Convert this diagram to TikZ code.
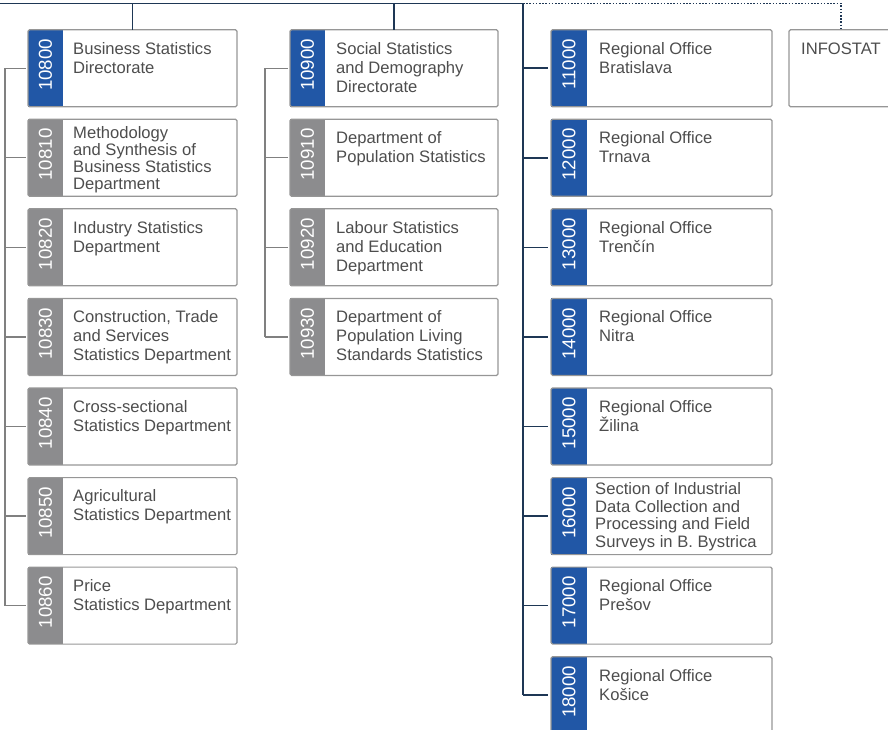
\documentclass[tikz,border=0pt]{standalone}
\usepackage{fontspec}
\setmainfont{Liberation Sans}
\definecolor{navyline}{RGB}{30,55,85}
\definecolor{stripblue}{RGB}{33,87,166}
\definecolor{stripgray}{RGB}{140,140,142}
\definecolor{boxborder}{RGB}{150,150,150}
\definecolor{connector}{RGB}{128,128,128}
\definecolor{labeltext}{RGB}{77,77,77}
\tikzset{
  ubox/.style={draw=boxborder, line width=1.2pt, rounded corners=1.5pt, inner sep=0pt, outer sep=0pt, minimum height=77pt},
  numtext/.style={rotate=90, inner sep=0pt, text=white, font=\fontsize{18.7}{18.7}\selectfont},
  utext/.style={inner sep=0pt, anchor=north west, align=left, text=labeltext, font=\fontsize{16.6}{19}\selectfont},
  tightA/.style={yshift=5.1pt, font=\fontsize{16.6}{17}\selectfont},
  tightB/.style={yshift=7.5pt, font=\fontsize{16.6}{17.7}\selectfont},
  navy/.style={draw=navyline, line width=1.5pt},
  navydots/.style={draw=navyline, line width=1.3pt, dash pattern=on 1.6pt off 1.6pt},
  grayconn/.style={draw=connector, line width=1.3pt},
}
% #1 name, #2 x0, #3 top, #4 width, #5 strip width, #6 strip colour, #7 number, #8 text x, #9 text options
\newcommand\orgunit[9]{%
  \fill[#6] (#2,#3) rectangle ++(#5,77);
  \node[ubox, minimum width=#4pt, anchor=north west] (#1) at (#2,#3) {};
  \node[numtext, anchor=east] (#1n) at (#2+#5/2,#3+9) {#7};
  \node[utext, #9] (#1t) at (#8,#3+12.1)
}
\begin{document}
\begin{tikzpicture}[x=1pt,y=-1pt]
\useasboundingbox (0,0) rectangle (888,730);
% column 1
\orgunit{b10800}{28}{29.7}{209}{35}{stripblue}{10800}{73}{}{Business Statistics\\Directorate};
\orgunit{b10810}{28}{119.3}{209}{35}{stripgray}{10810}{73}{tightA}{Methodology\\and Synthesis of\\Business Statistics\\Department};
\orgunit{b10820}{28}{208.8}{209}{35}{stripgray}{10820}{73}{}{Industry Statistics\\Department};
\orgunit{b10830}{28}{298.4}{209}{35}{stripgray}{10830}{73}{}{Construction, Trade\\and Services\\Statistics Department};
\orgunit{b10840}{28}{388.0}{209}{35}{stripgray}{10840}{73}{}{Cross-sectional\\Statistics Department};
\orgunit{b10850}{28}{477.6}{209}{35}{stripgray}{10850}{73}{}{Agricultural\\Statistics Department};
\orgunit{b10860}{28}{567.1}{209}{35}{stripgray}{10860}{73}{}{Price\\Statistics Department};
% column 2
\orgunit{b10900}{290}{29.7}{208}{35}{stripblue}{10900}{336}{}{Social Statistics\\and Demography\\Directorate};
\orgunit{b10910}{290}{119.3}{208}{35}{stripgray}{10910}{336}{}{Department of\\Population Statistics};
\orgunit{b10920}{290}{208.8}{208}{35}{stripgray}{10920}{336}{}{Labour Statistics\\and Education\\Department};
\orgunit{b10930}{290}{298.4}{208}{35}{stripgray}{10930}{336}{}{Department of\\Population Living\\Standards Statistics};
% column 3
\orgunit{b11000}{551}{29.7}{221}{36}{stripblue}{11000}{599}{}{Regional Office\\Bratislava};
\orgunit{b12000}{551}{119.3}{221}{36}{stripblue}{12000}{599}{}{Regional Office\\Trnava};
\orgunit{b13000}{551}{208.8}{221}{36}{stripblue}{13000}{599}{}{Regional Office\\Trenčín};
\orgunit{b14000}{551}{298.4}{221}{36}{stripblue}{14000}{599}{}{Regional Office\\Nitra};
\orgunit{b15000}{551}{388.0}{221}{36}{stripblue}{15000}{599}{}{Regional Office\\Žilina};
\orgunit{b16000}{551}{477.6}{221}{36}{stripblue}{16000}{595}{tightB}{Section of Industrial\\Data Collection and\\Processing and Field\\Surveys in B. Bystrica};
\orgunit{b17000}{551}{567.1}{221}{36}{stripblue}{17000}{599}{}{Regional Office\\Prešov};
\orgunit{b18000}{551}{656.7}{221}{36}{stripblue}{18000}{599}{}{Regional Office\\Košice};
% INFOSTAT
\node[ubox, minimum width=130pt, anchor=north west] (infostat) at (789,29.7) {};
\node[utext] (infostatt) at (801,29.7+12.6) {INFOSTAT};
% top line and stems
\coordinate (tl) at (0,3.5);
\coordinate (tr) at (523,3.5);
\coordinate (dx) at (841,3.5);
\coordinate (x1) at (5,0);
\coordinate (x2) at (265,0);
\draw[navy] (tl) -- (tr);
\draw[navydots] (tr) -- (dx) -- (dx |- infostat.north);
\draw[navy] (b10800.north |- tl) -- (b10800.north);
\draw[navy] (b10900.north |- tl) -- (b10900.north);
% column 3 connector
\draw[navy] (tr) -- (tr |- b18000.west);
\foreach \b in {b11000,b12000,b13000,b14000,b15000,b16000,b17000,b18000}
  \draw[navy, shorten >=3pt] (tr |- \b.west) -- (\b.west);
% column 1 connector
\draw[grayconn] (x1 |- b10800.west) -- (x1 |- b10860.west);
\foreach \b in {b10800,b10810,b10820,b10830,b10840,b10850,b10860}
  \draw[grayconn, shorten >=2pt] (x1 |- \b.west) -- (\b.west);
% column 2 connector
\draw[grayconn] (x2 |- b10900.west) -- (x2 |- b10930.west);
\foreach \b in {b10900,b10910,b10920,b10930}
  \draw[grayconn, shorten >=2pt] (x2 |- \b.west) -- (\b.west);
\end{tikzpicture}
\end{document}
